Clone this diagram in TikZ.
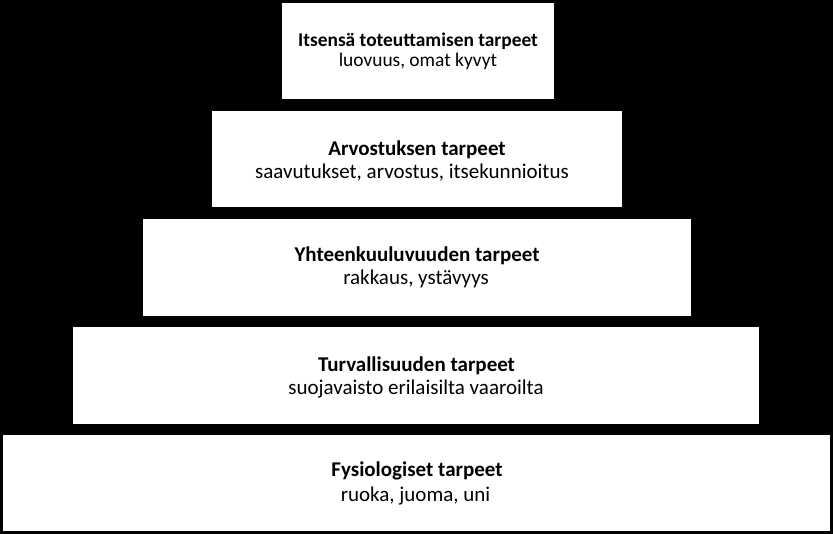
\documentclass[tikz,border=0pt]{standalone}
\usepackage{fontspec}
\setmainfont{Carlito}
\begin{document}
\begin{tikzpicture}[x=1pt,y=-1pt,
  level/.style={fill=white,inner sep=0pt},
  ttl/.style={anchor=base,inner sep=0pt,font=\fontsize{21}{24}\selectfont\bfseries},
  sub/.style={anchor=base,inner sep=0pt,font=\fontsize{21}{24}\selectfont},
  smallttl/.style={anchor=base,inner sep=0pt,font=\fontsize{19.4}{22}\selectfont\bfseries},
  smallsub/.style={anchor=base,inner sep=0pt,font=\fontsize{19.4}{22}\selectfont}]
\fill[black] (0,0) rectangle (833,534);
\useasboundingbox (0,0) rectangle (833,534);
\node[level,minimum width=272pt,minimum height=96pt] (b1) at (418,51) {};
\node[level,minimum width=410pt,minimum height=96pt] (b2) at (417,159) {};
\node[level,minimum width=548pt,minimum height=97pt] (b3) at (417,267.5) {};
\node[level,minimum width=686pt,minimum height=97pt] (b4) at (416,375.5) {};
\node[level,minimum width=827pt,minimum height=96pt] (b5) at (416.5,483) {};
\node[smallttl] (t1) at (418,46.7) {Itsensä toteuttamisen tarpeet};
\node[smallsub] (s1) at (418,66.7) {luovuus, omat kyvyt};
\node[ttl] (t2) at (417,155.7) {Arvostuksen tarpeet};
\node[sub] (s2) at (412,178.3) {saavutukset, arvostus, itsekunnioitus};
\node[ttl] (t3) at (417,261.7) {Yhteenkuuluvuuden tarpeet};
\node[sub] (s3) at (416,285) {rakkaus, ystävyys};
\node[ttl] (t4) at (416.5,371.7) {Turvallisuuden tarpeet};
\node[sub] (s4) at (416,395) {suojavaisto erilaisilta vaaroilta};
\node[ttl] (t5) at (417,477) {Fysiologiset tarpeet};
\node[sub] (s5) at (415.5,501) {ruoka, juoma, uni};
\end{tikzpicture}
\end{document}
